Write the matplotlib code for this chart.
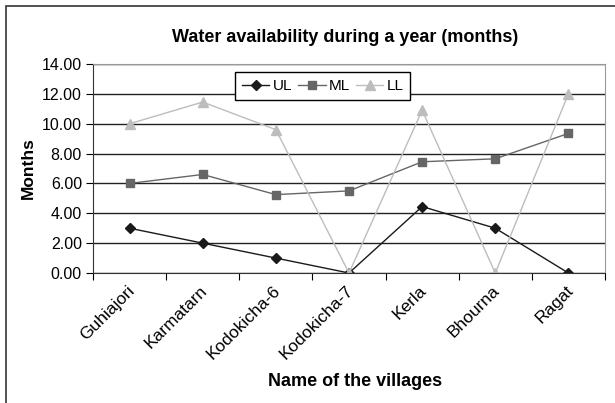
import matplotlib.pyplot as plt
import matplotlib.transforms as mtransforms
from matplotlib.patches import Rectangle

plt.rcParams['font.family'] = ['Liberation Sans', 'DejaVu Sans']

villages = ['Guhiajori', 'Karmatarn', 'Kodokicha-6', 'Kodokicha-7', 'Kerla', 'Bhourna', 'Ragat']
ul = [3.0, 2.0, 1.0, 0.0, 4.45, 3.0, 0.0]
ml = [6.0, 6.6, 5.25, 5.5, 7.45, 7.65, 9.35]
ll = [10.0, 11.45, 9.6, 0.0, 10.9, 0.0, 12.0]
yticks = [0, 2, 4, 6, 8, 10, 12, 14]

fig = plt.figure(figsize=(6.15, 4.03), dpi=100)
# outer chart border
fig.patches.append(Rectangle((6 / 615, -0.05), 1.1, 1 - 6 / 403 + 0.05,
                             transform=fig.transFigure, fill=False,
                             edgecolor='#333333', linewidth=1.2))

L, R, T, B = 93, 605, 64, 273
ax = fig.add_axes([L / 615, 1 - B / 403, (R - L) / 615, (B - T) / 403])

x = list(range(len(villages)))
ax.plot(x, ul, color='#1a1a1a', marker='D', markersize=5, linewidth=1, label='UL')
ax.plot(x, ml, color='#666666', marker='s', markersize=6, linewidth=1, label='ML')
ax.plot(x, ll, color='#bdbdbd', marker='^', markersize=6.5, linewidth=1, label='LL')

ax.set_xlim(-0.5, len(villages) - 0.5)
ax.set_ylim(0, 14)
ax.set_yticks(yticks)
ax.set_yticklabels([f'{v:.2f}' for v in yticks], fontsize=11.5)
ax.yaxis.grid(True, color='#222222', linewidth=1)
ax.set_axisbelow(True)

ax.set_xticks([i - 0.5 for i in range(len(villages) + 1)])
ax.set_xticklabels([])
ax.set_xticks(x, minor=True)
ax.set_xticklabels(villages, minor=True, rotation=45, ha='right', rotation_mode='anchor', fontsize=12.5)
ax.tick_params(axis='x', which='minor', length=0, pad=7)
ax.tick_params(axis='x', which='major', length=5, direction='out')
ax.tick_params(axis='y', length=5, direction='out', pad=3)
# nudge rotated labels a little to the left, like the original
shift = mtransforms.ScaledTranslation(-3 / 100, 0, fig.dpi_scale_trans)
for lab in ax.get_xticklabels(minor=True):
    lab.set_transform(lab.get_transform() + shift)

for s in ['top', 'right']:
    ax.spines[s].set_color('#999999')
ax.spines['left'].set_color('#333333')
ax.spines['bottom'].set_color('#333333')

ax.set_ylabel('Months', fontsize=12.5, fontweight='bold', labelpad=4)
fig.text(355 / 615, 1 - 382 / 403, 'Name of the villages', ha='center', va='center',
         fontsize=13, fontweight='bold')
fig.text(345 / 615, 1 - 38 / 403, 'Water availability during a year (months)', ha='center',
         va='center', fontsize=13, fontweight='bold')

leg = ax.legend(loc='upper left', bbox_to_anchor=((235 - L) / (R - L), (B - 72) / (B - T)), ncol=3,
                frameon=True, fancybox=False, fontsize=11, handlelength=1.8,
                handletextpad=0.2, columnspacing=0.4, borderpad=0.45, borderaxespad=0,
                framealpha=1)
leg.get_frame().set_edgecolor('black')
leg.get_frame().set_linewidth(1)

fig.savefig('out.png', dpi=100)
